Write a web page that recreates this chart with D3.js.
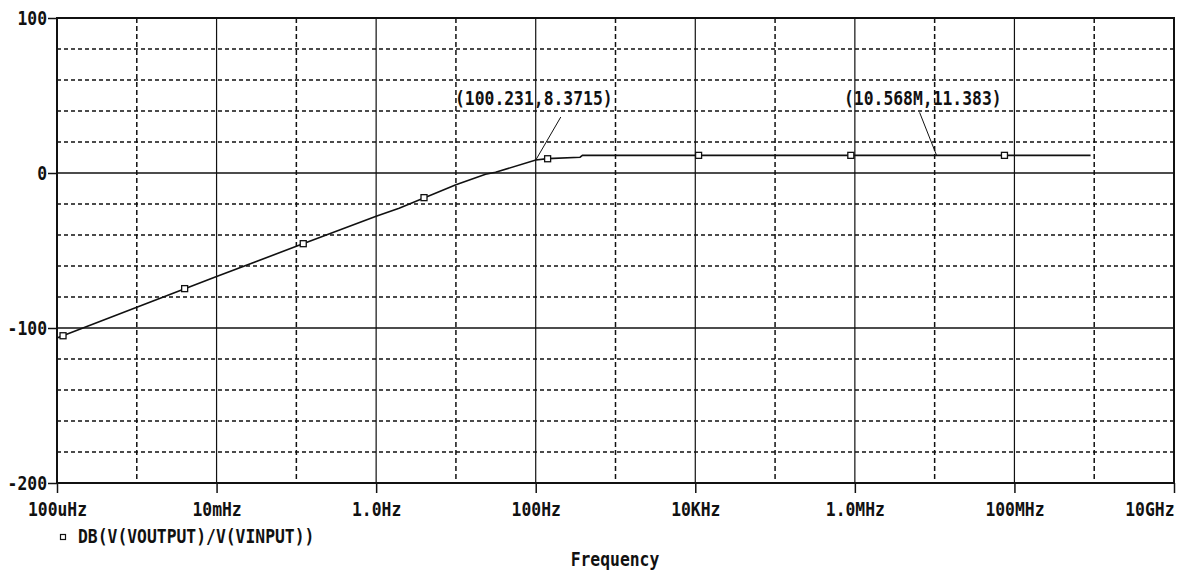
<!DOCTYPE html>
<html>
<head>
<meta charset="utf-8">
<script src="https://cdn.jsdelivr.net/npm/d3@7"></script>
<style>
  html, body { margin: 0; padding: 0; background: #fff; }
  svg { display: block; }
  text { font-family: "DejaVu Sans Mono", monospace; font-weight: bold; fill: #111; }
</style>
</head>
<body>
<svg id="chart" width="1186" height="577"></svg>
<script>
// ---- data ----
const curveFreq = [1e-4, 1e-3, 1e-2, 1e-1, 1, 1.94, 10, 23.5, 31.4, 100.231, 141, 360, 385, 1e3, 1e4, 1e5, 1e6, 1e7, 1e8, 9e8];
const curveDb   = [-106.5, -86.6, -66.8, -47.3, -27.9, -22.8, -7.6, -0.8, 0.45, 8.3715, 9.3, 10.2, 11.383, 11.383, 11.383, 11.383, 11.383, 11.383, 11.383, 11.383];

const markerFreq = [1.19e-4, 3.98e-3, 0.122, 3.98, 141, 1.1e4, 8.9e5, 7.5e7];
const markerDb   = [-105.0, -74.6, -45.6, -15.9, 9.2, 11.383, 11.383, 11.383];

const xTickValues = [1e-4, 1e-2, 1, 1e2, 1e4, 1e6, 1e8, 1e10];
const xTickLabels = ["100uHz", "10mHz", "1.0Hz", "100Hz", "10KHz", "1.0MHz", "100MHz", "10GHz"];
const xMinorValues = [1e-3, 1e-1, 1e1, 1e3, 1e5, 1e7, 1e9];

const yTickValues = [100, 0, -100, -200];
const yTickLabels = ["100", "0", "-100", "-200"];
const yMinorValues = [80, 60, 40, 20, -20, -40, -60, -80, -120, -140, -160, -180];

const annotFreq = [100.231, 10.568e6];
const annotDb   = [8.3715, 11.383];
const annotText = ["(100.231,8.3715)", "(10.568M,11.383)"];

const legendLabel = "DB(V(VOUTPUT)/V(VINPUT))";
const xTitle = "Frequency";

// ---- layout ----
const L = 57, R = 1174, T = 18, B = 483;
const CH = 9.85; // char advance
const FS = 19;
const svg = d3.select("#chart");
const x = d3.scaleLog().domain([1e-4, 1e10]).range([L, R]);
const y = d3.scaleLinear().domain([-200, 100]).range([B, T]);

function fitText(sel) {
  sel.each(function() {
    const t = d3.select(this);
    const n = t.text().length;
    t.attr("textLength", n * CH).attr("lengthAdjust", "spacingAndGlyphs");
  });
}

// minor dashed grid
svg.append("g").selectAll("line").data(yMinorValues).join("line")
  .attr("x1", L).attr("x2", R).attr("y1", d => y(d)).attr("y2", d => y(d))
  .attr("stroke", "#111").attr("stroke-width", 1.5).attr("stroke-dasharray", "4,3");
svg.append("g").selectAll("line").data(xMinorValues).join("line")
  .attr("x1", d => x(d)).attr("x2", d => x(d)).attr("y1", T).attr("y2", B)
  .attr("stroke", "#111").attr("stroke-width", 1.5).attr("stroke-dasharray", "5,3");

// major solid grid
svg.append("g").selectAll("line").data(yTickValues).join("line")
  .attr("x1", L).attr("x2", R).attr("y1", d => y(d)).attr("y2", d => y(d))
  .attr("stroke", "#111").attr("stroke-width", 1.5);
svg.append("g").selectAll("line").data(xTickValues).join("line")
  .attr("x1", d => x(d)).attr("x2", d => x(d)).attr("y1", T).attr("y2", B)
  .attr("stroke", "#111").attr("stroke-width", 1.2);

// frame
svg.append("rect").attr("x", L).attr("y", T).attr("width", R - L).attr("height", B - T)
  .attr("fill", "none").attr("stroke", "#111").attr("stroke-width", 2);

// axes
const xAxis = d3.axisBottom(x).tickValues(xTickValues)
  .tickFormat((d, i) => xTickLabels[i]).tickSize(10).tickPadding(10);
const gx = svg.append("g").attr("transform", `translate(0,${B})`).call(xAxis);
gx.select(".domain").remove();
gx.selectAll(".tick line").attr("stroke", "#111").attr("stroke-width", 1.5);
gx.selectAll(".tick text").attr("font-size", FS).attr("font-family", null).attr("dy", "0.66em")
  .attr("fill", "#111").call(fitText);
gx.selectAll(".tick text").filter((d, i) => i === xTickValues.length - 1).attr("text-anchor", "end");

const yAxis = d3.axisLeft(y).tickValues(yTickValues)
  .tickFormat((d, i) => yTickLabels[i]).tickSize(9).tickPadding(1);
const gy = svg.append("g").attr("transform", `translate(${L},0)`).call(yAxis);
gy.select(".domain").remove();
gy.selectAll(".tick line").attr("stroke", "#111").attr("stroke-width", 1.5);
gy.selectAll(".tick text").attr("font-size", FS).attr("font-family", null).attr("dy", "0.36em")
  .attr("fill", "#111").call(fitText);

// curve
const pts = curveFreq.map((f, i) => [f, curveDb[i]]);
const line = d3.line().x(d => x(d[0])).y(d => y(d[1]));
svg.append("path").datum(pts).attr("d", line)
  .attr("fill", "none").attr("stroke", "#111").attr("stroke-width", 1.6);

// markers
svg.append("g").selectAll("rect").data(markerFreq).join("rect")
  .attr("x", (d) => x(d) - 3).attr("y", (d, i) => y(markerDb[i]) - 3)
  .attr("width", 6).attr("height", 6)
  .attr("fill", "#fff").attr("stroke", "#111").attr("stroke-width", 1.3);

// annotations
const annOffsets = [[25, -43], [-17, -43]];
const annTextPos = [[455, 105], [844, 105]];
annotFreq.forEach((f, i) => {
  const px = x(f), py = y(annotDb[i]);
  svg.append("line")
    .attr("x1", px).attr("y1", py)
    .attr("x2", px + annOffsets[i][0]).attr("y2", py + annOffsets[i][1])
    .attr("stroke", "#111").attr("stroke-width", 1);
  svg.append("text").attr("x", annTextPos[i][0]).attr("y", annTextPos[i][1])
    .attr("font-size", FS).text(annotText[i]).call(fitText);
});

// legend
svg.append("rect").attr("x", 60.5).attr("y", 534.5).attr("width", 5).attr("height", 5)
  .attr("fill", "#fff").attr("stroke", "#111").attr("stroke-width", 1.2);
svg.append("text").attr("x", 78).attr("y", 543).attr("font-size", FS)
  .text(legendLabel).call(fitText);

// x title
svg.append("text").attr("x", 615).attr("y", 566).attr("text-anchor", "middle")
  .attr("font-size", FS).text(xTitle).call(fitText);
</script>
</body>
</html>
